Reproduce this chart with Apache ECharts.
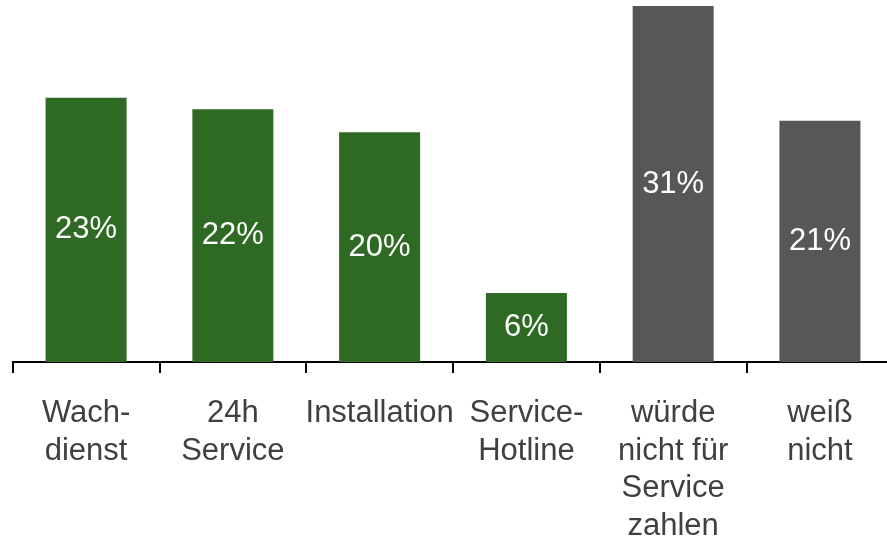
<!DOCTYPE html>
<html>
<head>
<meta charset="utf-8">
<script src="https://cdn.jsdelivr.net/npm/echarts@6/dist/echarts.min.js"></script>
<style>
html,body{margin:0;padding:0;background:#fff;}
#chart{width:887px;height:540px;}
</style>
</head>
<body>
<div id="chart"></div>
<script>
var categories = ['Wach-\ndienst', '24h\nService', 'Installation', 'Service-\nHotline', 'würde\nnicht für\nService\nzahlen', 'weiß\nnicht'];
var values = [23, 22, 20, 6, 31, 21];
var barColors = ['#2E6A23', '#2E6A23', '#2E6A23', '#2E6A23', '#575757', '#575757'];

var chart = echarts.init(document.getElementById('chart'), null, {renderer: 'canvas'});
chart.setOption({
  animation: false,
  backgroundColor: '#ffffff',
  grid: {left: 12.7, right: -6.3, top: 6, bottom: 178, containLabel: false, outerBoundsMode: 'none'},
  xAxis: {
    type: 'category',
    data: categories,
    axisLine: {show: true, lineStyle: {color: '#000000', width: 2}},
    axisTick: {show: true, length: 11, lineStyle: {color: '#000000', width: 2}},
    axisLabel: {
      interval: 0,
      margin: 33,
      color: '#404040',
      fontFamily: 'Liberation Sans, Arial, sans-serif',
      fontSize: 31,
      lineHeight: 37.5
    },
    splitLine: {show: false}
  },
  yAxis: {
    type: 'value',
    min: 0,
    max: 31,
    show: false
  },
  series: [{
    type: 'bar',
    barWidth: 81,
    data: values.map(function (v, i) {
      return {value: v, itemStyle: {color: barColors[i]}};
    }),
    label: {
      show: true,
      position: 'inside',
      color: '#ffffff',
      fontFamily: 'Liberation Sans, Arial, sans-serif',
      fontSize: 31,
      formatter: function (p) { return p.value + '%'; }
    }
  }]
});
</script>
</body>
</html>
